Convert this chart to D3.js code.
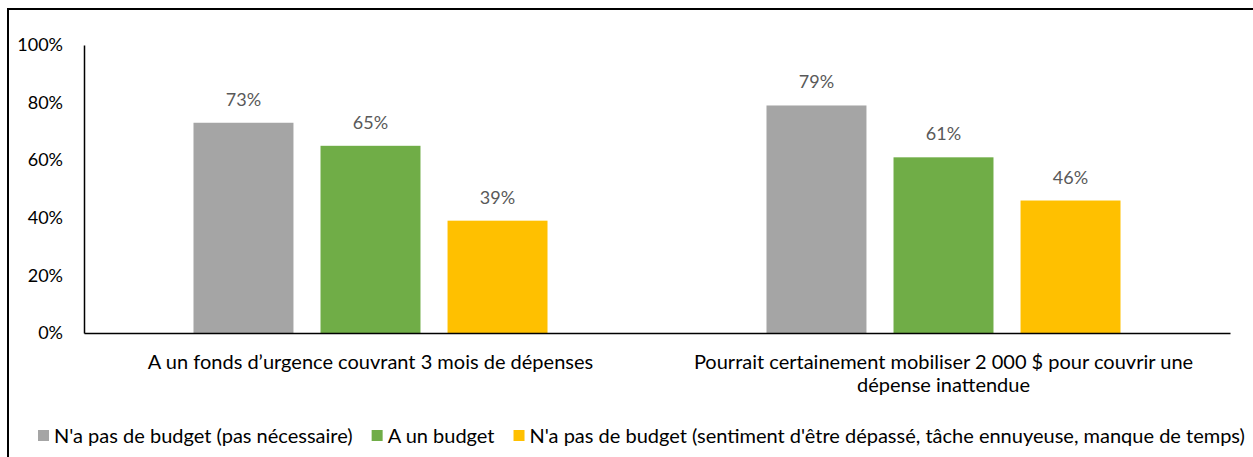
<!DOCTYPE html>
<html>
<head>
<meta charset="utf-8">
<script src="https://cdn.jsdelivr.net/npm/d3@7"></script>
<style>
  body { margin: 0; background: #fff; }
  svg { display: block; font-family: Lato, "Open Sans", sans-serif; }
</style>
</head>
<body>
<svg id="chart"></svg>
<script>
// categories and series
let categories = [
  ["A un fonds d’urgence couvrant 3 mois de dépenses"],
  ["Pourrait certainement mobiliser 2 000 $ pour couvrir une", "dépense inattendue"]
];
let seriesNames = [
  "N'a pas de budget (pas nécessaire)",
  "A un budget",
  "N'a pas de budget (sentiment d'être dépassé, tâche ennuyeuse, manque de temps)"
];
let seriesColors = ["#a5a5a5", "#70ad47", "#ffc000"];
let noBudgetNotNeeded = [73, 79];
let hasBudget = [65, 61];
let noBudgetOverwhelmed = [39, 46];
let yTicks = [0, 20, 40, 60, 80, 100];

let w = 1253;
let h = 457;
let margin = { left: 84, right: 23, top: 45, bottom: 124 };
let numSize = 18;
let textSize = 20;

let svg = d3.select("#chart").attr("width", w).attr("height", h);

let values = [noBudgetNotNeeded, hasBudget, noBudgetOverwhelmed];
let data = categories.map((c, i) => ({
  idx: i,
  vals: values.map((s, j) => ({ series: j, value: s[i] }))
}));

// frame (cut off at the right and bottom like the reference)
svg.append("rect")
  .attr("x", 8).attr("y", 9)
  .attr("width", w + 40).attr("height", h + 40)
  .attr("fill", "none")
  .attr("stroke", "#000")
  .attr("stroke-width", 2);

let x0 = d3.scaleBand()
  .domain(data.map((d) => d.idx))
  .range([margin.left, w - margin.right]);
let x1 = d3.scaleBand()
  .domain([0, 1, 2])
  .range([0, x0.bandwidth()])
  .paddingInner(0.213)
  .paddingOuter(0.862);
let y = d3.scaleLinear()
  .domain([0, 100])
  .range([h - margin.bottom, margin.top]);

// y axis
let yAxis = d3.axisLeft(y)
  .tickValues(yTicks)
  .tickSize(0)
  .tickPadding(21)
  .tickFormat((d) => d + "%");
let gy = svg.append("g")
  .attr("transform", `translate(${margin.left}, 0)`)
  .call(yAxis)
  .attr("font-family", null)
  .attr("font-size", null);
gy.select(".domain").attr("stroke", "#000").attr("stroke-width", 1.5);
gy.selectAll("text")
  .attr("fill", "#000")
  .style("font-size", numSize + "px");

// bars
let groups = svg.append("g")
  .selectAll("g")
  .data(data)
  .enter()
  .append("g")
  .attr("transform", (d) => `translate(${x0(d.idx)}, 0)`);

groups.selectAll("rect")
  .data((d) => d.vals)
  .enter()
  .append("rect")
  .attr("x", (d) => x1(d.series))
  .attr("width", x1.bandwidth())
  .attr("y", (d) => y(d.value))
  .attr("height", (d) => y(0) - y(d.value))
  .attr("fill", (d) => seriesColors[d.series]);

groups.selectAll("text.val")
  .data((d) => d.vals)
  .enter()
  .append("text")
  .attr("class", "val")
  .attr("x", (d) => x1(d.series) + x1.bandwidth() / 2)
  .attr("y", (d) => y(d.value) - 17)
  .attr("text-anchor", "middle")
  .attr("fill", "#595959")
  .style("font-size", numSize + "px")
  .text((d) => d.value + "%");

// x axis
let xAxis = d3.axisBottom(x0).tickSize(0).tickFormat("");
let gx = svg.append("g")
  .attr("transform", `translate(0, ${y(0)})`)
  .call(xAxis);
gx.select(".domain").attr("stroke", "#000").attr("stroke-width", 1.5);

// category labels
let catLabels = svg.append("g")
  .selectAll("text")
  .data(data)
  .enter()
  .append("text")
  .attr("text-anchor", "middle")
  .attr("fill", "#000")
  .style("font-size", textSize + "px")
  .attr("transform", (d) => `translate(${x0(d.idx) + x0.bandwidth() / 2}, ${y(0) + 36})`);
catLabels.selectAll("tspan")
  .data((d) => categories[d.idx])
  .enter()
  .append("tspan")
  .attr("x", 0)
  .attr("dy", (d, i) => (i === 0 ? 0 : 23))
  .text((d) => d);

// legend
let legend = svg.append("g").attr("transform", `translate(38, ${h - 21})`);
let lx = 0;
seriesNames.forEach((name, i) => {
  let item = legend.append("g").attr("transform", `translate(${lx}, 0)`);
  item.append("rect")
    .attr("x", 0).attr("y", -6)
    .attr("width", 11).attr("height", 11)
    .attr("fill", seriesColors[i]);
  let t = item.append("text")
    .attr("x", 16)
    .attr("dy", "0.35em")
    .attr("fill", "#000")
    .style("font-size", textSize + "px")
    .text(name);
  lx += 16 + t.node().getComputedTextLength() + 19;
});
</script>
</body>
</html>
